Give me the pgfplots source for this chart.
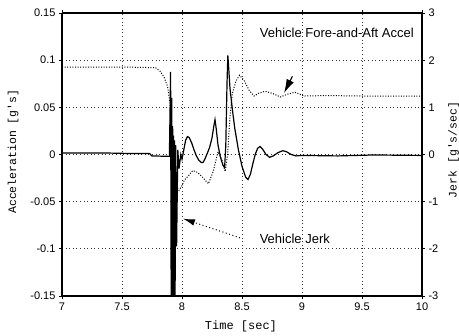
\documentclass[border=0pt]{standalone}
\usepackage{pgfplots}
\pgfplotsset{compat=1.18}
\usepackage{fontspec}
\setmainfont{Liberation Sans}
\newfontfamily\monofont{Liberation Mono}
\usetikzlibrary{arrows.meta}
\begin{document}
\begin{tikzpicture}
\pgfplotsset{
  common/.style={
    scale only axis, width=360pt, height=283pt,
    xmin=7, xmax=10,
    tick align=outside, major tick length=3pt,
    axis line style={line width=1.3pt},
    tick style={line width=0.8pt, black},
    ticklabel style={font=\fontsize{11}{11}\selectfont},
    /pgf/number format/assume math mode=true,
    clip=true,
  }
}
\begin{axis}[common,
  ymin=-0.15, ymax=0.15,
  axis y line*=left, axis x line*=box,
  xtick={7,7.5,8,8.5,9,9.5,10},
  xticklabels={7,7.5,8,8.5,9,9.5,10},
  ytick={-0.15,-0.1,-0.05,0,0.05,0.1,0.15},
  yticklabels={-0.15,-0.1,-0.05,0,0.05,0.1,0.15},
  grid=major,
  grid style={black!80, line width=0.7pt, dash pattern=on 0.8pt off 2.8pt},
  xlabel={\monofont\fontsize{12}{12}\selectfont Time [sec]},
  ylabel={\monofont\fontsize{11.5}{11.5}\selectfont Acceleration [g's]},
  every axis x label/.append style={at={(axis description cs:0.497,-0.106)}, anchor=center},
  every axis y label/.append style={at={(axis description cs:-0.136,0.51)}, anchor=center},
]
\coordinate (SW) at (rel axis cs:0,0);
\coordinate (NE) at (rel axis cs:1,1);
\addplot[black, line width=1pt, dash pattern=on 1pt off 1.6pt] coordinates {
(7.00,0.0925) (7.30,0.0925) (7.60,0.0925) (7.78,0.0920) (7.82,0.088)
(7.85,0.082) (7.88,0.072) (7.90,0.055) (7.915,0.02) (7.93,-0.015)
(7.95,-0.032) (7.975,-0.038) (8.00,-0.033) (8.02,-0.027) (8.05,-0.023)
(8.09,-0.017) (8.13,-0.019) (8.17,-0.024) (8.22,-0.031) (8.26,-0.018)
(8.30,0.003) (8.33,-0.005) (8.36,-0.018) (8.38,0.00) (8.40,0.04)
(8.42,0.065) (8.45,0.078) (8.48,0.084) (8.52,0.078) (8.56,0.068)
(8.60,0.062) (8.64,0.065) (8.69,0.067) (8.75,0.065) (8.82,0.061)
(8.88,0.064) (8.94,0.066) (9.02,0.062) (9.20,0.0625) (9.50,0.062) (10.0,0.062)
};
\draw[black, line width=1pt, dash pattern=on 1pt off 2.5pt, -{Latex[length=12pt,width=6.5pt]}]
  (axis cs:8.483,-0.0883) -- (axis cs:8.008,-0.068);
\draw[black, line width=1.1pt, -{Latex[length=14pt,width=8pt]}]
  (axis cs:8.92,0.083) -- (axis cs:8.85,0.065);
\node[font=\fontsize{13}{13}\selectfont, anchor=center] at (axis cs:9.29,0.1287) {Vehicle Fore-and-Aft Accel};
\node[font=\fontsize{13}{13}\selectfont, anchor=center] at (axis cs:8.94,-0.0894) {Vehicle Jerk};
\end{axis}
\begin{axis}[common,
  ymin=-3, ymax=3,
  axis y line*=right, axis x line=none,
  ytick={-3,-2,-1,0,1,2,3},
  yticklabels={-3,-2,-1,0,1,2,3},
  ylabel={\monofont\fontsize{11.5}{11.5}\selectfont Jerk [g's/sec]},
  every axis y label/.append style={at={(axis description cs:1.088,0.516)}, anchor=center},
]
\addplot[black, line width=1.2pt] coordinates {
(7.00,0.03) (7.40,0.03) (7.60,0.02) (7.73,0.02) (7.75,-0.03) (7.895,-0.04)
(7.905,1.75) (7.910,-3.3) (7.914,1.2) (7.918,-3.3) (7.922,0.6) (7.926,-3.3)
(7.930,0.4) (7.934,-3.3) (7.938,0.3) (7.942,-3.3)
(7.947,0.2) (7.955,-1.95) (7.965,0.1) (7.975,-0.3) (7.99,0.0) (8.00,-0.1)
(8.015,0.1) (8.03,0.3) (8.045,0.38) (8.06,0.36) (8.08,0.25) (8.10,0.1)
(8.12,-0.03) (8.14,-0.12) (8.16,-0.17) (8.175,-0.17) (8.19,-0.1) (8.21,0.02)
(8.23,0.15) (8.25,0.35) (8.265,0.6) (8.275,0.74) (8.285,0.55) (8.30,0.2)
(8.32,-0.05) (8.34,-0.22) (8.355,-0.28) (8.365,0.2) (8.375,1.5) (8.382,2.1)
(8.39,1.8) (8.40,1.4) (8.42,0.95) (8.44,0.55) (8.47,0.1) (8.50,-0.25)
(8.53,-0.48) (8.55,-0.53) (8.57,-0.42) (8.59,-0.2) (8.61,0.0) (8.63,0.13)
(8.65,0.17) (8.67,0.12) (8.70,0.0) (8.73,-0.06) (8.76,-0.03) (8.80,0.04)
(8.84,0.08) (8.87,0.06) (8.91,0.0) (8.95,-0.03) (9.00,-0.02) (9.30,-0.03)
(9.60,-0.01) (10.0,-0.02)
};
\end{axis}
\pgfresetboundingbox
\path ([shift={(-62pt,-39pt)}]SW) rectangle ([shift={(37pt,13pt)}]NE);
\end{tikzpicture}
\end{document}
